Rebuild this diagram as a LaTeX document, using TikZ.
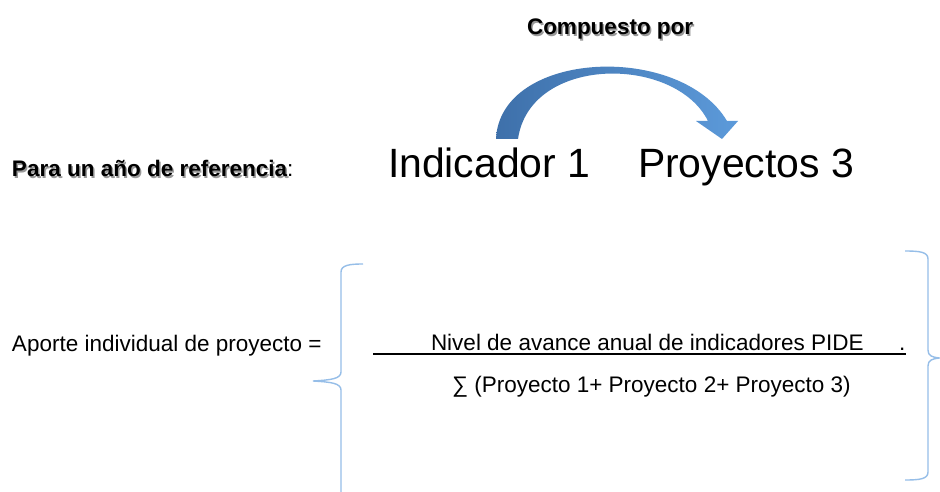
\documentclass[tikz,border=0pt]{standalone}
\usepackage{fontspec}
\setmainfont{Liberation Sans}
\newcommand{\shadowedtxt}[1]{\makebox[0pt][l]{\hspace{1.5pt}\raisebox{-1.5pt}{\textcolor{black!40}{#1}}}#1}
\begin{document}
\begin{tikzpicture}[x=1pt,y=-1pt,
  txt/.style={inner sep=0pt,outer sep=0pt,anchor=base west,font=\fontsize{22.5}{27}\selectfont},
  big/.style={inner sep=0pt,outer sep=0pt,anchor=base west,font=\fontsize{40.9}{49}\selectfont},
  bracecol/.style={draw=bluebrace,line width=1.4pt}]
\definecolor{bluebrace}{RGB}{150,190,232}
\definecolor{arrowdark}{RGB}{62,112,170}
\definecolor{arrowlight}{RGB}{92,154,218}
\useasboundingbox (0,0) rectangle (940,492);
\fill[white] (0,0) rectangle (940,492);

% curved block arrow
\shade[left color=arrowdark,right color=arrowlight]
  (496,139) .. controls (500,50) and (680,42) .. (727,121)
  -- (738,121) -- (722,139) -- (696,121) -- (708,121)
  .. controls (675,55) and (530,55) .. (518,139) -- cycle;

% texts
\node[txt] (comp) at (527,35) {\bfseries\shadowedtxt{Compuesto por}};
\node[txt] (para) at (12,177) {\bfseries\shadowedtxt{Para un año de referencia}\mdseries:};
\node[big] (ind) at (388,178) {Indicador 1};
\node[big] (proy) at (638,178) {Proyectos 3};
\node[txt] (aporte) at (12,351) {Aporte individual de proyecto =};
\node[txt] (num) at (431,350) {Nivel de avance anual de indicadores PIDE};
\node[txt] (dot) at (899,350) {.};
\node[txt] (den) at (452,392) {∑ (Proyecto 1+ Proyecto 2+ Proyecto 3)};
\coordinate (ulA) at (373,354);
\coordinate (ulB) at (906,354);
\draw[line width=1.3pt] (ulA) -- (ulB);

% braces
\draw[bracecol] (363,264) .. controls (350,264) and (341,265) .. (341,272)
  -- (341,372) .. controls (341,379) and (330,380) .. (313,381)
  .. controls (330,382) and (341,383) .. (341,390) -- (341,492);
\draw[bracecol] (905,251) .. controls (920,251) and (928,252) .. (928,259)
  -- (928,350) .. controls (928,356) and (932,357) .. (939,358)
  .. controls (932,359) and (928,360) .. (928,366)
  -- (928,472) .. controls (928,479) and (920,480) .. (905,480);
\end{tikzpicture}
\end{document}
